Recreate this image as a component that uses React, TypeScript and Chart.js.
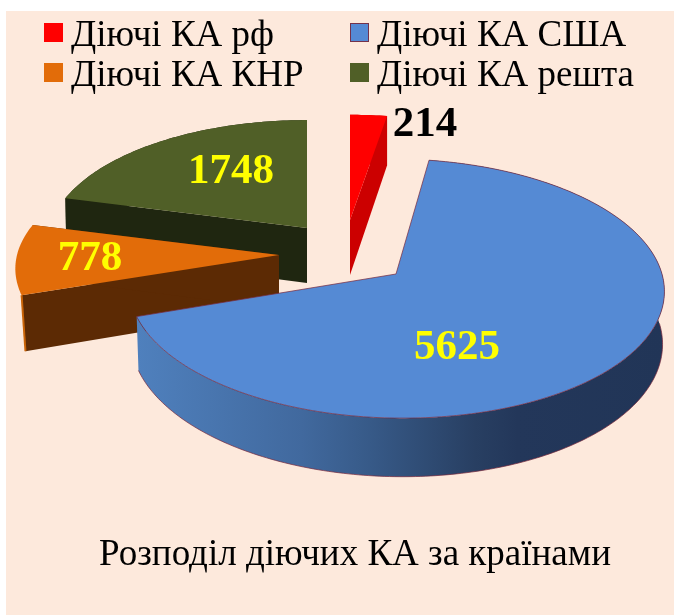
import React, { useEffect, useRef } from "react";
import { Chart, registerables } from "chart.js";

Chart.register(...registerables);

const categories = ["Діючі КА рф", "Діючі КА США", "Діючі КА КНР", "Діючі КА решта"];
const values = [214, 5625, 778, 1748];
const chartTitle = "Розподіл діючих КА за країнами";

const topColors = ["#ff0000", "#558ad4", "#e26c09", "#505f27"];
const cutColors = ["#cc0000", "#27406a", "#5c2a04", "#1f2610"];
const labelColors = ["#000000", "#ffff00", "#ffff00", "#ffff00"];

const SERIF = '"Liberation Serif", "Times New Roman", serif';

// apex position, radii, shear, depth and inward convergence of every exploded slice on the tilted plane
const sliceShape = [
  { ax: 350, ay: 220, rx: 257, ry: 117, sh: 0, d: 55, c: 0.0, lx: 425, ly: 124.5 },
  { ax: 396, ay: 274, rx: 266, ry: 128, sh: -6, d: 52, c: 0.007, lx: 457, ly: 348 },
  { ax: 279, ay: 255, rx: 262, ry: 121, sh: 0, d: 54, c: 0.015, lx: 90, ly: 259 },
  { ax: 307, ay: 228, rx: 257, ry: 120, sh: 0, d: 55, c: 0.004, lx: 231, ly: 172 },
];
const PERSPECTIVE = 0.112;
const legendSpots = [
  { x: 44, y: 23 },
  { x: 350, y: 23 },
  { x: 44, y: 63 },
  { x: 350, y: 63 },
];

type Pt = { x: number; y: number };
type Shape = (typeof sliceShape)[number];

function project(s: Shape, theta: number): Pt {
  const u = Math.sin(theta);
  const v = Math.cos(theta);
  const k = 1 / (1 + PERSPECTIVE * v);
  return { x: s.ax + (s.rx * u + s.sh * v) * k, y: s.ay - s.ry * v * k };
}

function arcPoints(s: Shape, a: number, b: number): { p: Pt; t: number }[] {
  const n = Math.max(8, Math.ceil(((b - a) * 180) / Math.PI));
  const out: { p: Pt; t: number }[] = [];
  for (let i = 0; i <= n; i++) {
    const t = a + ((b - a) * i) / n;
    out.push({ p: project(s, t), t });
  }
  return out;
}

function poly(ctx: CanvasRenderingContext2D, pts: Pt[]) {
  ctx.beginPath();
  pts.forEach((p, i) => (i ? ctx.lineTo(p.x, p.y) : ctx.moveTo(p.x, p.y)));
  ctx.closePath();
}

const pie3d = {
  id: "pie3d",
  beforeDraw(chart: Chart) {
    const ctx = chart.ctx;
    ctx.save();
    ctx.fillStyle = "#ffffff";
    ctx.fillRect(0, 0, chart.width, chart.height);
    ctx.fillStyle = "#fde9dc";
    ctx.fillRect(6, 11, chart.width - 6, chart.height - 11);
    ctx.restore();
  },
  beforeDatasetsDraw(chart: Chart) {
    const ctx = chart.ctx;
    const arcs = chart.getDatasetMeta(0).data as any[];
    const order = [3, 2, 0, 1];
    ctx.save();
    for (const i of order) {
      const s = sliceShape[i];
      const a = arcs[i].startAngle + Math.PI / 2;
      const b = arcs[i].endAngle + Math.PI / 2;
      const rim = arcPoints(s, a, b);
      const apex = { x: s.ax, y: s.ay };
      const apexLow = { x: s.ax, y: s.ay + s.d };
      const down = (q: { p: Pt; t: number }) => ({
        x: q.p.x + (s.ax - q.p.x) * s.c,
        y: q.p.y + s.d / (1 + PERSPECTIVE * Math.cos(q.t)),
      });

      // outer wall (the orange one is turned away from the viewer)
      if (i !== 2) {
        poly(ctx, [...rim.map((q) => q.p), ...rim.slice().reverse().map(down)]);
        if (i === 1) {
          const g = ctx.createLinearGradient(138, 0, 665, 0);
          g.addColorStop(0, "#4f80bd");
          g.addColorStop(0.31, "#41699e");
          g.addColorStop(0.44, "#375a88");
          g.addColorStop(0.64, "#283f62");
          g.addColorStop(0.72, "#23375a");
          g.addColorStop(1, "#213557");
          ctx.fillStyle = g;
        } else {
          ctx.fillStyle = cutColors[i];
        }
        ctx.fill();
      }

      // the two cut faces
      const first = rim[0];
      const last = rim[rim.length - 1];
      if (i !== 1) {
        ctx.fillStyle = cutColors[i];
        poly(ctx, [apex, first.p, down(first), apexLow]);
        ctx.fill();
        poly(ctx, [apex, last.p, down(last), apexLow]);
        ctx.fill();
      }
      if (i === 2) {
        ctx.strokeStyle = "#c96408";
        ctx.lineWidth = 2;
        ctx.beginPath();
        ctx.moveTo(first.p.x, first.p.y);
        const fd = down(first);
        ctx.lineTo(fd.x, fd.y);
        ctx.stroke();
      }

      // top face
      poly(ctx, [apex, ...rim.map((q) => q.p)]);
      ctx.fillStyle = topColors[i];
      ctx.fill();
      if (i === 1) {
        ctx.strokeStyle = "rgba(120,40,60,0.7)";
        ctx.lineWidth = 1;
        ctx.stroke();
        const front = rim.filter((q) => Math.cos(q.t) < 0.02);
        ctx.beginPath();
        front.forEach((q, n) => {
          const d = down(q);
          if (n) ctx.lineTo(d.x, d.y);
          else ctx.moveTo(d.x, d.y);
        });
        ctx.stroke();
      }
    }
    ctx.restore();
    return false;
  },
  afterDraw(chart: Chart) {
    const ctx = chart.ctx;
    ctx.save();
    ctx.textBaseline = "middle";
    ctx.textAlign = "center";
    ctx.font = `bold 43px ${SERIF}`;
    values.forEach((v, i) => {
      ctx.fillStyle = labelColors[i];
      ctx.fillText(String(v), sliceShape[i].lx, sliceShape[i].ly);
    });

    ctx.textAlign = "left";
    ctx.textBaseline = "alphabetic";
    ctx.font = `37px ${SERIF}`;
    categories.forEach((c, i) => {
      const l = legendSpots[i];
      ctx.fillStyle = topColors[i];
      ctx.fillRect(l.x, l.y, 19, 19);
      if (i === 1) {
        ctx.strokeStyle = "rgba(120,40,60,0.9)";
        ctx.lineWidth = 1;
        ctx.strokeRect(l.x + 0.5, l.y + 0.5, 18, 18);
      }
      ctx.fillStyle = "#000000";
      ctx.fillText(c, l.x + 27, l.y + 23);
    });

    ctx.textAlign = "center";
    ctx.fillText(chartTitle, 355, 565);
    ctx.restore();
  },
};

export default function App() {
  const ref = useRef<HTMLCanvasElement | null>(null);
  useEffect(() => {
    document.body.style.margin = "0";
    const chart = new Chart(ref.current as HTMLCanvasElement, {
      type: "pie",
      data: {
        labels: categories,
        datasets: [{ data: values, backgroundColor: topColors }],
      },
      options: {
        animation: false,
        responsive: false,
        events: [],
        plugins: { legend: { display: false }, title: { display: false }, tooltip: { enabled: false } },
      },
      plugins: [pie3d as any],
    });
    return () => chart.destroy();
  }, []);
  return (
    <div style={{ position: "absolute", left: 0, top: 0, width: 674, height: 615 }}>
      <canvas ref={ref} width={674} height={615} style={{ display: "block" }} />
    </div>
  );
}
